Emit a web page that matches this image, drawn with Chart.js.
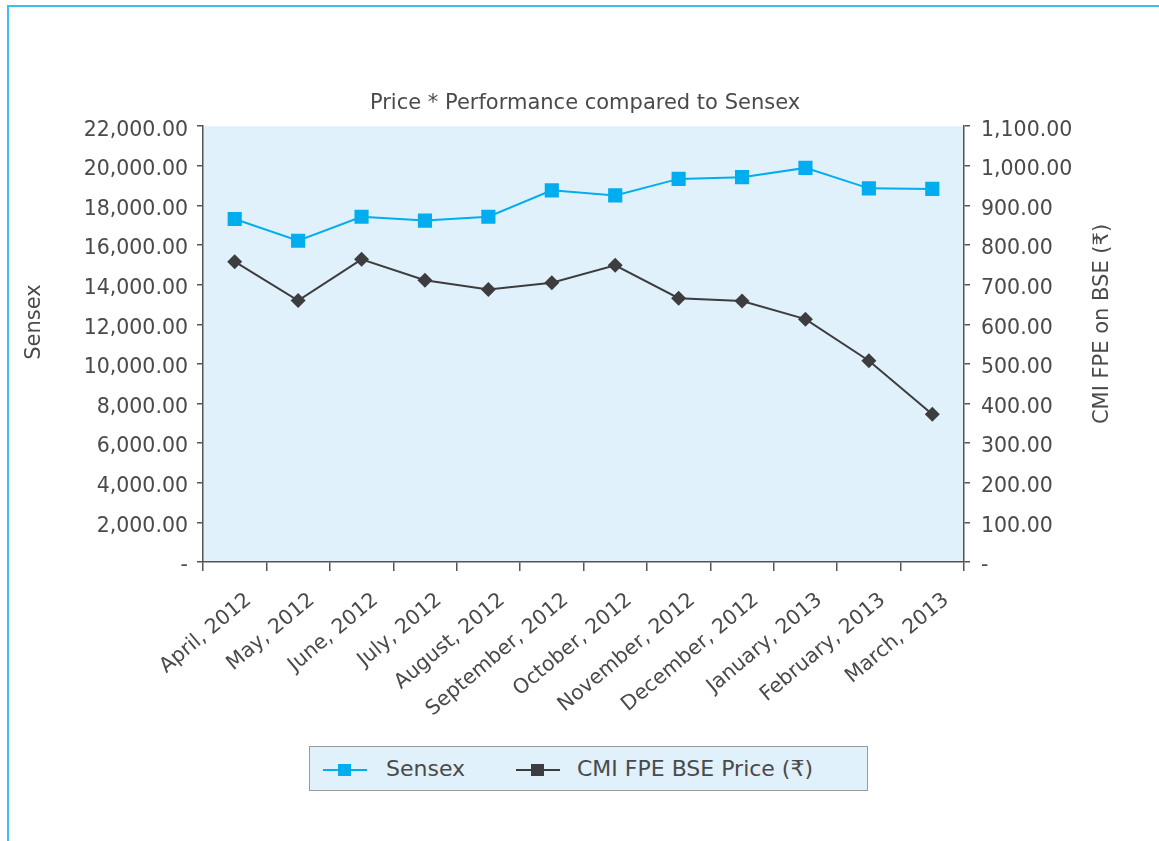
<!DOCTYPE html>
<html>
<head>
<meta charset="utf-8">
<script src="https://cdn.jsdelivr.net/npm/chart.js@4"></script>
<style>
  html, body { margin: 0; padding: 0; background: #fff; }
  body { width: 1159px; height: 841px; position: relative; overflow: hidden; font-family: "DejaVu Sans", sans-serif; }
  #frame { position: absolute; left: 7px; top: 5px; right: -10px; bottom: -10px; border-top: 2px solid #3fbdee; border-left: 2px solid #3fbdee; }
  #wrap { position: absolute; left: 0; top: 0; width: 1159px; height: 841px; }
  #legend { position: absolute; left: 309px; top: 746px; width: 557px; height: 43px; background: #e0f1fb; border: 1px solid #9a9a9a; }
  .item { position: absolute; top: 0; height: 43px; line-height: 44px; font-size: 22px; color: #4a4a4a; }
  .mark { position: absolute; top: 22px; width: 44px; height: 2px; }
  .mark i { position: absolute; left: 15px; top: -5px; width: 13px; height: 12px; }
</style>
</head>
<body>
<div id="frame"></div>
<div id="wrap"><canvas id="priceChart" width="1159" height="841"></canvas></div>
<div id="legend"></div>
<script>
const months = ["April, 2012", "May, 2012", "June, 2012", "July, 2012", "August, 2012", "September, 2012",
  "October, 2012", "November, 2012", "December, 2012", "January, 2013", "February, 2013", "March, 2013"];
const sensex = [17318, 16219, 17430, 17236, 17430, 18763, 18505, 19340, 19427, 19895, 18862, 18836];
const cmiPrice = [758, 660, 764, 711, 688, 705, 749, 666, 659, 613, 508, 373];

const blue = "#00aeef";
const dark = "#3d3d3f";
const axisColor = "#555";
const textColor = "#4a4a4a";
const fontFamily = "'DejaVu Sans', sans-serif";

const fmt = (v) => v === 0 ? "-" : v.toLocaleString("en-US", { minimumFractionDigits: 2, maximumFractionDigits: 2 });

// light blue fill behind the plot
const plotBg = {
  id: "plotBg",
  beforeDraw(chart) {
    const { ctx, chartArea: a } = chart;
    ctx.save();
    ctx.fillStyle = "#e0f1fb";
    ctx.fillRect(a.left, a.top, a.right - a.left, a.bottom - a.top);
    ctx.restore();
  },
};

// both axis titles read bottom-to-top, a bit above the plot middle
const axisTitles = {
  id: "axisTitles",
  afterDraw(chart) {
    const { ctx } = chart;
    const put = (text, x, y) => {
      ctx.save();
      ctx.translate(x, y);
      ctx.rotate(-Math.PI / 2);
      ctx.font = "21px " + fontFamily;
      ctx.fillStyle = textColor;
      ctx.textAlign = "center";
      ctx.textBaseline = "middle";
      ctx.fillText(text, 0, 0);
      ctx.restore();
    };
    put("Sensex", 35, 322);
    put("CMI FPE on BSE (₹)", 1103, 324);
  },
};

Chart.defaults.font.family = fontFamily;
Chart.defaults.color = textColor;

const ctx = document.getElementById("priceChart").getContext("2d");
const chart = new Chart(ctx, {
  type: "line",
  plugins: [plotBg, axisTitles],
  data: {
    labels: months,
    datasets: [
      {
        label: "Sensex",
        data: sensex,
        yAxisID: "y",
        borderColor: blue,
        backgroundColor: blue,
        borderWidth: 2,
        pointStyle: "rect",
        pointRadius: 10,
        pointBorderWidth: 0,
        tension: 0,
      },
      {
        label: "CMI FPE BSE Price (₹)",
        data: cmiPrice,
        yAxisID: "y1",
        borderColor: dark,
        backgroundColor: dark,
        borderWidth: 2,
        pointStyle: "rectRot",
        pointRadius: 7.5,
        pointBorderWidth: 0,
        tension: 0,
      },
    ],
  },
  options: {
    responsive: false,
    animation: false,
    layout: { padding: { left: 51, right: 40, top: 70, bottom: 0 } },
    plugins: {
      legend: { display: false },
      tooltip: { enabled: false },
      title: {
        display: true,
        text: "Price * Performance compared to Sensex",
        color: textColor,
        font: { size: 21, weight: "normal" },
        padding: { top: 21, bottom: 10 },
      },
    },
    scales: {
      x: {
        offset: true,
        grid: { offset: true, drawOnChartArea: false, drawTicks: true, tickLength: 9, color: axisColor, lineWidth: 1.5 },
        border: { display: true, color: axisColor, width: 1.5 },
        ticks: { autoSkip: false, maxRotation: 40, minRotation: 40, font: { size: 20.5 }, color: textColor, padding: 17, labelOffset: 14 },
        afterFit(scale) { scale.height = 841 - 562; },
      },
      y: {
        position: "left",
        min: 0,
        max: 22000,
        ticks: { stepSize: 2000, callback: fmt, font: { size: 20.5 }, color: textColor, padding: 9, labelOffset: 4 },
        grid: { drawOnChartArea: false, tickLength: 6, color: axisColor, lineWidth: 1.5 },
        border: { display: true, color: axisColor, width: 1.5 },
        afterFit(scale) { scale.width = 203 - 51; },
      },
      y1: {
        position: "right",
        min: 0,
        max: 1100,
        ticks: { stepSize: 100, callback: fmt, font: { size: 20.5 }, color: textColor, padding: 11, labelOffset: 4 },
        grid: { drawOnChartArea: false, tickLength: 6, color: axisColor, lineWidth: 1.5 },
        border: { display: true, color: axisColor, width: 1.5 },
        afterFit(scale) { scale.width = 1119 - 964; },
      },
    },
  },
});

// legend: line with square marker, drawn from the datasets
const legendEl = document.getElementById("legend");
const legendX = [[13, 76], [206, 267]];
chart.data.datasets.forEach((ds, i) => {
  const m = document.createElement("div");
  m.className = "mark";
  m.style.left = legendX[i][0] + "px";
  m.style.background = ds.borderColor;
  const sq = document.createElement("i");
  sq.style.background = ds.backgroundColor;
  m.appendChild(sq);
  const t = document.createElement("div");
  t.className = "item";
  t.style.left = legendX[i][1] + "px";
  t.textContent = ds.label;
  legendEl.appendChild(m);
  legendEl.appendChild(t);
});
</script>
</body>
</html>
